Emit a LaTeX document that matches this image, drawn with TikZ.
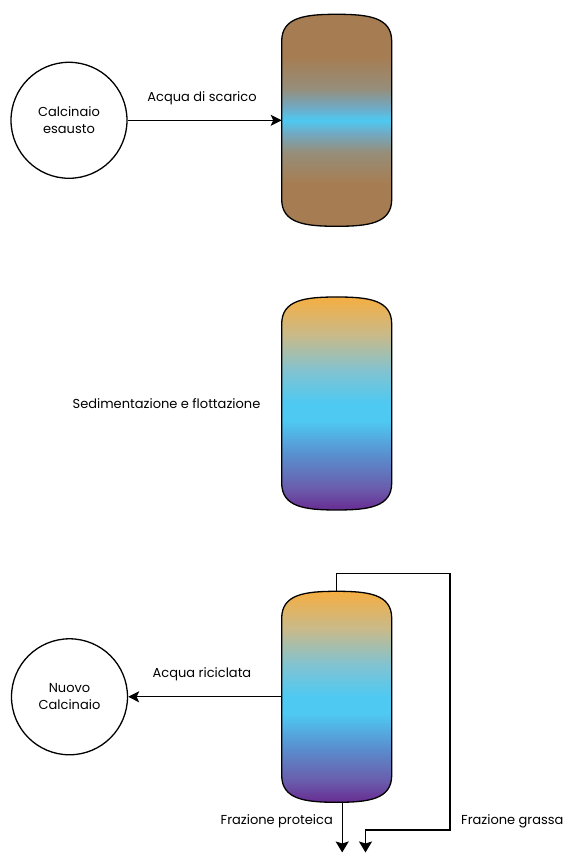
\documentclass[tikz,border=0pt]{standalone}
\usepackage{fontspec}
\setmainfont{Poppins}
\usetikzlibrary{calc,arrows.meta}

\definecolor{mud}{RGB}{166,125,82}
\definecolor{water}{RGB}{78,201,242}
\definecolor{mudA}{RGB}{150,142,122}
\definecolor{mudB}{RGB}{112,170,196}
\definecolor{deep}{RGB}{104,44,146}
\definecolor{deepA}{RGB}{106,92,172}
\definecolor{steel}{RGB}{90,140,204}
\definecolor{teal}{RGB}{128,195,210}
\definecolor{tan}{RGB}{200,186,138}
\definecolor{fat}{RGB}{245,174,66}

% muddy waste water with a clear band in the middle
\pgfdeclareverticalshading{wastewater}{100bp}{%
  color(0bp)=(mud); color(35bp)=(mud); color(42.5bp)=(mudA);
  color(47bp)=(mudB); color(50bp)=(water); color(53bp)=(mudB);
  color(57.5bp)=(mudA); color(65bp)=(mud); color(100bp)=(mud)}
% separated layers: fat on top, proteins at the bottom
\pgfdeclareverticalshading{layers}{100bp}{%
  color(0bp)=(deep); color(25bp)=(deep); color(30bp)=(deepA);
  color(37.5bp)=(steel); color(46bp)=(water); color(50bp)=(water);
  color(57.5bp)=(teal); color(66bp)=(tan); color(75bp)=(fat);
  color(100bp)=(fat)}

\tikzset{
  vessel/.style={minimum width=110pt, minimum height=212pt, inner sep=0pt, outer sep=0pt},
  tub/.style={circle, draw, line width=1.3pt, minimum size=116pt, inner sep=0pt, align=center, font=\fontsize{13}{17}\selectfont},
  lbl/.style={font=\fontsize{13}{16}\selectfont, inner sep=0pt},
  flow/.style={line width=1.3pt, -{Stealth[length=11pt,width=11pt,inset=2.5pt]}},
  outflow/.style={line width=1.3pt, -{Stealth[length=11pt,width=13pt,inset=2pt]}},
  pipe/.style={line width=1.3pt}
}

% rounded vessel outline around a placeholder node
\newcommand\vesselbody[2]{%
  \shade[draw, line width=1.3pt, shading=#2]
    ($(#1.north west)+(0,-27)$) .. controls ($(#1.north west)+(0,-3)$) and ($(#1.north)+(-32,0)$) .. (#1.north)
    .. controls ($(#1.north)+(32,0)$) and ($(#1.north east)+(0,-3)$) .. ($(#1.north east)+(0,-27)$)
    -- ($(#1.south east)+(0,27)$)
    .. controls ($(#1.south east)+(0,3)$) and ($(#1.south)+(32,0)$) .. (#1.south)
    .. controls ($(#1.south)+(-32,0)$) and ($(#1.south west)+(0,3)$) .. ($(#1.south west)+(0,27)$)
    -- cycle;}

\begin{document}
\begin{tikzpicture}[x=1pt,y=1pt]
\useasboundingbox (0,0) rectangle (566,853);

% vessels
\node[vessel] (t1) at (336.7,732.7) {};
\node[vessel, minimum height=213pt] (t2) at (336.7,449.5) {};
\node[vessel, minimum height=211pt] (t3) at (336.7,156.2) {};
\vesselbody{t1}{wastewater}
\vesselbody{t2}{layers}
\vesselbody{t3}{layers}

% tubs
\node[tub] (c1) at (69,732.7) {Calcinaio\\esausto};
\node[tub] (c2) at (69.5,156.2) {Nuovo\\Calcinaio};

% waste water inlet
\draw[flow] (c1.east) -- (t1.west);
\node[lbl] (l1) at (202,755) {Acqua di scarico};

% process label
\node[lbl] (l2) at (166.5,449) {Sedimentazione e flottazione};

% recycled water
\draw[flow] (t3.west) -- (c2.east);
\node[lbl] (l3) at (202,179) {Acqua riciclata};

% protein fraction outlet
\coordinate (pOut) at ($(t3.south)+(5.5,0)$);
\coordinate (pEnd) at (342.2,0.5);
\draw[outflow] (pOut) -- (pEnd);
\node[lbl, anchor=east] (l4) at (333,32) {Frazione proteica};

% fat fraction outlet
\coordinate (gEnd) at (365.5,0.5);
\draw[outflow] (t3.north) -- ++(0,17.7) -| (450,23) -| (gEnd);
\node[lbl, anchor=west] (l5) at (461,32) {Frazione grassa};
\end{tikzpicture}
\end{document}
